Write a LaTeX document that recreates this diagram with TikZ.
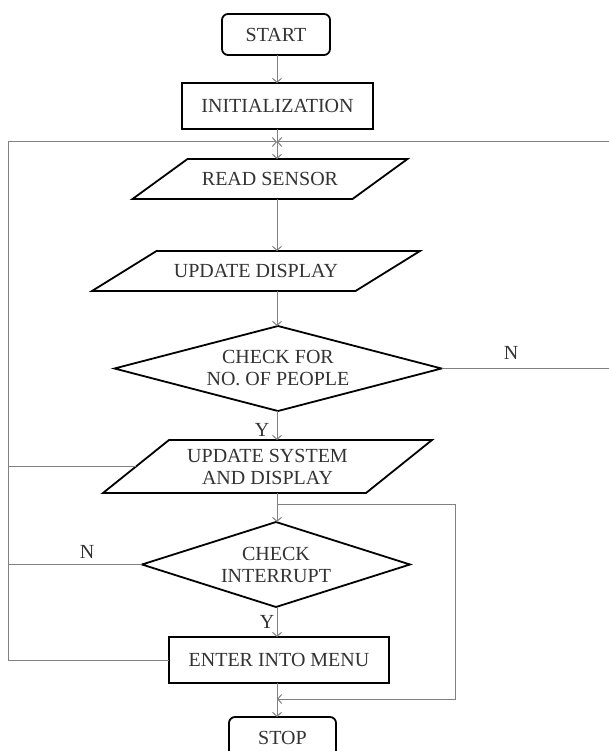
\documentclass[tikz,border=0pt]{standalone}
\usepackage{fontspec}
\setmainfont{Liberation Serif}
\usetikzlibrary{shapes.geometric,arrows.meta}
\definecolor{textgray}{HTML}{333333}
\definecolor{linegray}{HTML}{808080}
\begin{document}
\begin{tikzpicture}[x=1pt,y=-1pt,
  txt/.style={font=\fontsize{20}{22}\selectfont, text=textgray, align=center},
  border/.style={draw=black, line width=1.8pt, line join=miter},
  box/.style={txt, border, inner sep=0pt, outer sep=0pt},
  term/.style={box, rectangle, rounded corners=6pt},
  proc/.style={box, rectangle},
  iobody/.style={txt, rectangle, draw=none, inner sep=0pt, outer sep=0pt},
  dec/.style={box, diamond},
  conn/.style={draw=linegray, line width=1pt},
  arr/.style={conn, -{Straight Barb[length=4pt,width=9pt]}},
  lbl/.style={font=\fontsize{20}{22}\selectfont, text=textgray, inner sep=0pt}
]
\useasboundingbox (0,0) rectangle (609,751);
\clip (0,0) rectangle (609,751);
\fill[white] (0,0) rectangle (609,751);

% nodes
\node[term, minimum width=108pt, minimum height=41pt] (start) at (276,34.5) {START};
\node[proc, minimum width=191pt, minimum height=46pt] (init) at (277.5,106) {INITIALIZATION};

\node[iobody, minimum width=220pt, minimum height=40pt] (read) at (270,179) {READ SENSOR};
\draw[border] ([xshift=27.5pt]read.north west) -- ([xshift=27.5pt]read.north east)
  -- ([xshift=-27.5pt]read.south east) -- ([xshift=-27.5pt]read.south west) -- cycle;

\node[iobody, minimum width=263.5pt, minimum height=40pt] (upd1) at (256,271) {UPDATE DISPLAY};
\draw[border] ([xshift=32.25pt]upd1.north west) -- ([xshift=32.25pt]upd1.north east)
  -- ([xshift=-32.25pt]upd1.south east) -- ([xshift=-32.25pt]upd1.south west) -- cycle;

\node[dec, aspect=3.85, minimum width=327pt, minimum height=85pt] (d1) at (278,368.5) {CHECK FOR\\NO. OF PEOPLE};

\node[iobody, minimum width=263pt, minimum height=53pt] (upd2) at (267.5,466.5) {UPDATE SYSTEM\\AND DISPLAY};
\draw[border] ([xshift=33pt]upd2.north west) -- ([xshift=33pt]upd2.north east)
  -- ([xshift=-33pt]upd2.south east) -- ([xshift=-33pt]upd2.south west) -- cycle;

\node[dec, aspect=3.15, minimum width=268pt, minimum height=85pt] (d2) at (276,564.5) {CHECK\\INTERRUPT};
\node[proc, minimum width=220pt, minimum height=46pt] (menu) at (279,660) {ENTER INTO MENU};
\node[term, minimum width=107pt, minimum height=41pt] (stop) at (282.5,737.5) {STOP};

% labels
\node[lbl] (n1) at (511,353) {N};
\node[lbl] (y1) at (262,430) {Y};
\node[lbl] (n2) at (87,552) {N};
\node[lbl] (y2) at (267,622) {Y};

% coordinates
\coordinate (ax) at (277,0);
\coordinate (J) at (277,142);
\coordinate (LT) at (8,142);
\coordinate (LB) at (8,660);
\coordinate (RT) at (612,142);
\coordinate (RB) at (612,368.5);
\coordinate (S) at (277,504);
\coordinate (R1) at (455,504);
\coordinate (R2) at (455,699);
\coordinate (M) at (277,699);

% connectors
\draw[arr] (start.south -| ax) -- (init.north -| ax);
\draw[conn] (init.south -| ax) -- (J);
\draw[arr] (J) -- (read.north -| ax);
\draw[arr] (read.south -| ax) -- (upd1.north -| ax);
\draw[arr] (upd1.south -| ax) -- (d1.north -| ax);
\draw[arr] (d1.south -| ax) -- (upd2.north -| ax);
\draw[conn] (d1.east) -- (RB) -- (RT);
\draw[arr] (RT) -- (J);
\draw[conn] (upd2.west) -- (upd2.west -| LB);
\draw[conn] (d2.west) -- (d2.west -| LB);
\draw[arr] (menu.west) -- (LB) -- (LT) -- (J);
\draw[conn] (upd2.south -| ax) -- (S);
\draw[arr] (S) -- (d2.north -| ax);
\draw[arr] (S) -- (R1) -- (R2) -- (M);
\draw[arr] (d2.south -| ax) -- (menu.north -| ax);
\draw[arr] (menu.south -| ax) -- (stop.north -| ax);
\end{tikzpicture}
\end{document}
